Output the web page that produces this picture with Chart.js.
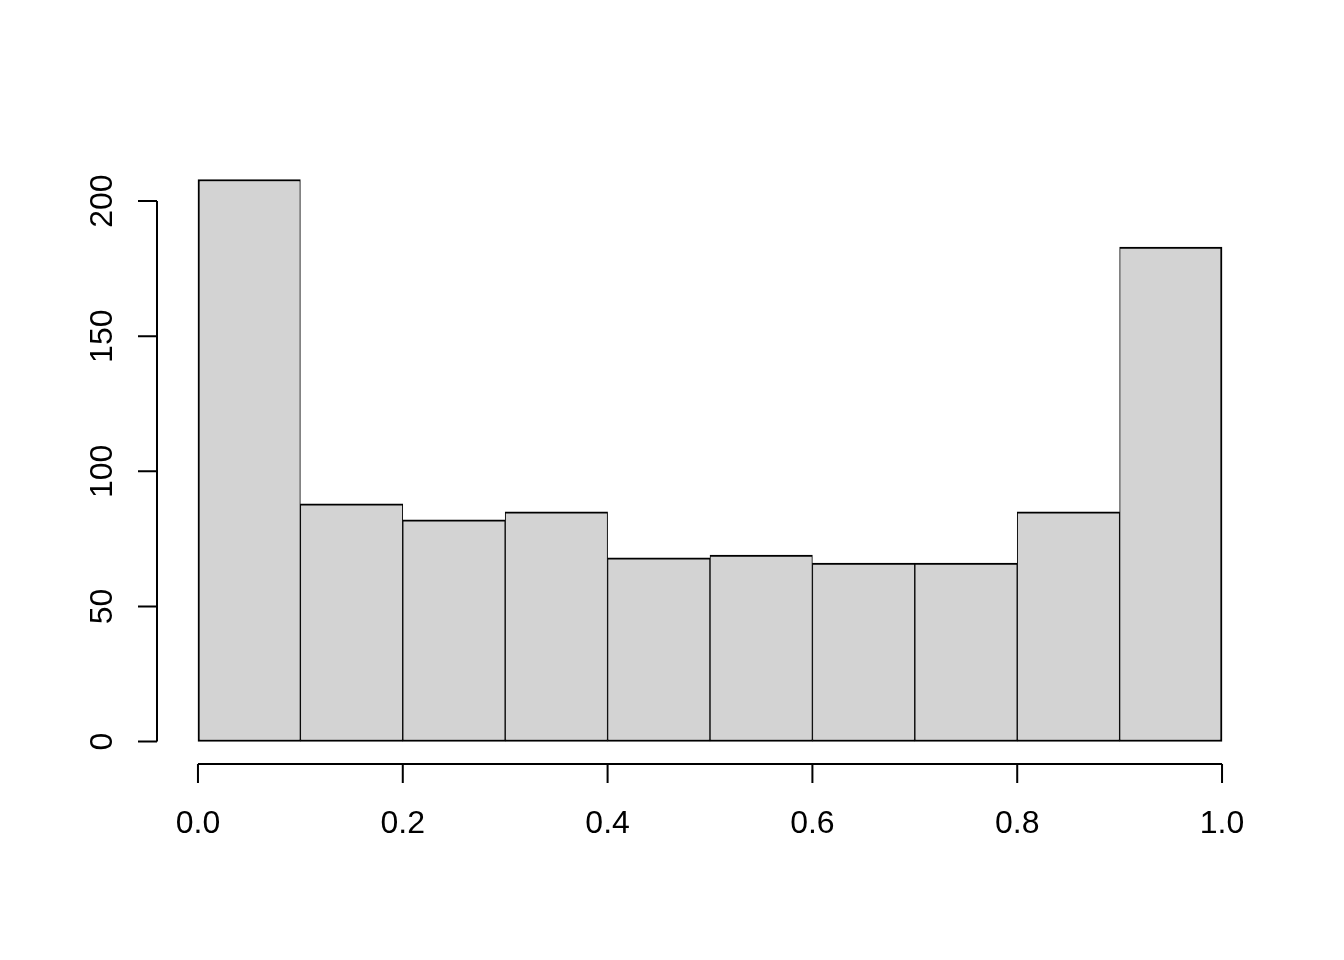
<!DOCTYPE html>
<html>
<head>
<meta charset="utf-8">
<script src="https://cdn.jsdelivr.net/npm/chart.js@4.4.1/dist/chart.umd.min.js"></script>
<style>
  html, body { margin: 0; padding: 0; background: #fff; }
  canvas { display: block; }
</style>
</head>
<body>
<canvas id="hist" width="1344" height="960"></canvas>
<script>
// histogram bins (midpoints) and counts
const binMids = [0.05, 0.15, 0.25, 0.35, 0.45, 0.55, 0.65, 0.75, 0.85, 0.95];
const counts = [208, 88, 82, 85, 68, 69, 66, 66, 85, 183];
const xTicks = [0, 0.2, 0.4, 0.6, 0.8, 1.0];
const xTickLabels = ["0.0", "0.2", "0.4", "0.6", "0.8", "1.0"];
const yTicks = [0, 50, 100, 150, 200];
const yTickLabels = ["0", "50", "100", "150", "200"];

const FONT = '32px "Liberation Sans", Arial, sans-serif';
const LW = 2;
const TICK = 19;

// R-style axes: lines only across tick range, detached from plot box
const rAxes = {
  id: 'rAxes',
  afterDraw(chart) {
    const { ctx, chartArea: a, scales: { x, y } } = chart;
    ctx.save();
    ctx.strokeStyle = '#000';
    ctx.fillStyle = '#000';
    ctx.lineWidth = LW;
    ctx.font = FONT;

    // x axis
    const xb = a.bottom;
    ctx.beginPath();
    ctx.moveTo(x.getPixelForValue(xTicks[0]), xb);
    ctx.lineTo(x.getPixelForValue(xTicks.at(-1)), xb);
    xTicks.forEach(v => {
      const px = x.getPixelForValue(v);
      ctx.moveTo(px, xb);
      ctx.lineTo(px, xb + TICK);
    });
    ctx.stroke();
    ctx.textAlign = 'center';
    ctx.textBaseline = 'alphabetic';
    xTicks.forEach((v, i) => {
      ctx.fillText(xTickLabels[i], x.getPixelForValue(v), xb + 69);
    });

    // y axis
    const yl = a.left;
    ctx.beginPath();
    ctx.moveTo(yl, y.getPixelForValue(yTicks[0]));
    ctx.lineTo(yl, y.getPixelForValue(yTicks.at(-1)));
    yTicks.forEach(v => {
      const py = y.getPixelForValue(v);
      ctx.moveTo(yl, py);
      ctx.lineTo(yl - TICK, py);
    });
    ctx.stroke();
    yTicks.forEach((v, i) => {
      ctx.save();
      ctx.translate(yl - 45, y.getPixelForValue(v));
      ctx.rotate(-Math.PI / 2);
      ctx.textAlign = 'center';
      ctx.textBaseline = 'alphabetic';
      ctx.fillText(yTickLabels[i], 0, 0);
      ctx.restore();
    });
    ctx.restore();
  }
};

const last = counts.length - 1;

new Chart(document.getElementById('hist'), {
  type: 'bar',
  data: {
    datasets: [{
      data: binMids.map((m, i) => ({ x: m, y: counts[i] })),
      backgroundColor: '#d3d3d3',
      borderColor: '#000',
      borderSkipped: false,
      borderWidth: c => ({
        top: LW,
        bottom: LW,
        left: c.dataIndex === 0 ? LW : LW / 2,
        right: c.dataIndex === last ? LW : LW / 2
      }),
      barPercentage: 1,
      categoryPercentage: 1
    }]
  },
  options: {
    responsive: false,
    devicePixelRatio: 1,
    animation: false,
    layout: { padding: { left: 157, right: 81, top: 157, bottom: 196 } },
    plugins: { legend: { display: false }, tooltip: { enabled: false } },
    scales: {
      x: { type: 'linear', min: -0.04, max: 1.04, offset: false, display: false },
      y: { min: -8.32, max: 216.32, display: false }
    }
  },
  plugins: [rAxes]
});
</script>
</body>
</html>
